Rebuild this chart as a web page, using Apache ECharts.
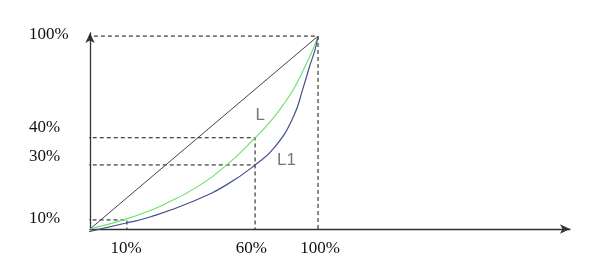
<!DOCTYPE html>
<html>
<head>
<meta charset="utf-8">
<script src="https://cdn.jsdelivr.net/npm/echarts@6/dist/echarts.min.js"></script>
<style>html,body{margin:0;padding:0;background:#fff;}#c{width:600px;height:277px;}</style>
</head>
<body>
<div id="c"></div>
<script>
// Schematic Lorenz-curve drawing (values in drawing units, 100 = full share)
const xTickLabels = ['10%', '60%', '100%'];
const xTickValues = [15.8, 70.8, 100.9];
const yTickLabels = ['100%', '40%', '30%', '10%'];
const yTickValues = [101, 52.7, 37.5, 5.2];

const equality = [[0, 0], [100, 100]];
const curveL = [[0, 0], [15.4, 5.0], [26.3, 9.6], [32.9, 13.0], [46.1, 21.2], [60, 33.2], [72.4, 47.3], [80, 57], [86, 66.5], [90, 74], [94, 83.5], [97, 91], [100, 100]];
const curveL1 = [[-2.2, -1.9], [15.4, 3.0], [26.3, 6.2], [46.1, 14.8], [60, 23], [72.4, 33.2], [81.1, 42.6], [89.2, 58.2], [93.6, 73.7], [96.5, 85], [98.7, 93], [100, 100]];

// dashed guide lines
const guide10 = [[-5, 4.7], [16.2, 4.7], [16.2, 0]];
const guide30 = [[-8, 33.2], [72.4, 33.2]];
const guide40 = [[-8, 47.3], [72.4, 47.3], [72.4, 0]];
const guide100 = [[-7.5, 100], [100, 100], [100, 0]];

const curveNames = [{ name: 'L', value: [74.6, 59] }, { name: 'L1', value: [86.2, 35.8] }];

function lookup(vals, labels, v) {
  let best = 0;
  for (let i = 1; i < vals.length; i++) if (Math.abs(vals[i] - v) < Math.abs(vals[best] - v)) best = i;
  return labels[best];
}

const chart = echarts.init(document.getElementById('c'), null, { renderer: 'canvas' });
const dashStyle = { color: '#111', width: 1, type: [4, 3] };
function guide(d) {
  return { type: 'line', data: d, symbol: 'none', clip: false, silent: true, lineStyle: dashStyle, z: 1 };
}
chart.setOption({
  animation: false,
  grid: { left: 90, right: 30, top: 33, bottom: 48 },
  xAxis: {
    type: 'value', min: 0, max: 210.5,
    splitLine: { show: false },
    axisTick: { show: false },
    axisLine: { show: true, symbol: ['none', 'arrow'], symbolSize: [7, 10], lineStyle: { color: '#333', width: 1.3 } },
    axisLabel: {
      customValues: xTickValues, margin: 11,
      fontFamily: 'Liberation Serif', fontSize: 17, color: '#111',
      formatter: v => lookup(xTickValues, xTickLabels, v)
    }
  },
  yAxis: {
    type: 'value', min: 0, max: 101.6,
    splitLine: { show: false },
    axisTick: { show: false },
    axisLine: { show: true, symbol: ['none', 'arrow'], symbolSize: [7, 10], lineStyle: { color: '#333', width: 1.3 } },
    axisLabel: {
      customValues: yTickValues, margin: 61, align: 'left',
      fontFamily: 'Liberation Serif', fontSize: 17, color: '#111',
      formatter: v => lookup(yTickValues, yTickLabels, v)
    }
  },
  series: [
    guide(guide10), guide(guide30), guide(guide40), guide(guide100),
    { type: 'line', data: equality, symbol: 'none', clip: false, lineStyle: { color: '#444', width: 1 }, z: 2 },
    { type: 'line', data: curveL, symbol: 'none', smooth: 0.5, clip: false, lineStyle: { color: '#66e466', width: 1.1 }, z: 3 },
    { type: 'line', data: curveL1, symbol: 'none', smooth: 0.5, clip: false, lineStyle: { color: '#45508a', width: 1.2 }, z: 3 },
    {
      type: 'scatter', data: curveNames, symbolSize: 0, silent: true,
      label: { show: true, position: 'inside', formatter: p => p.name, fontFamily: 'Liberation Sans', fontSize: 17, color: '#555' }
    }
  ]
});
</script>
</body>
</html>
